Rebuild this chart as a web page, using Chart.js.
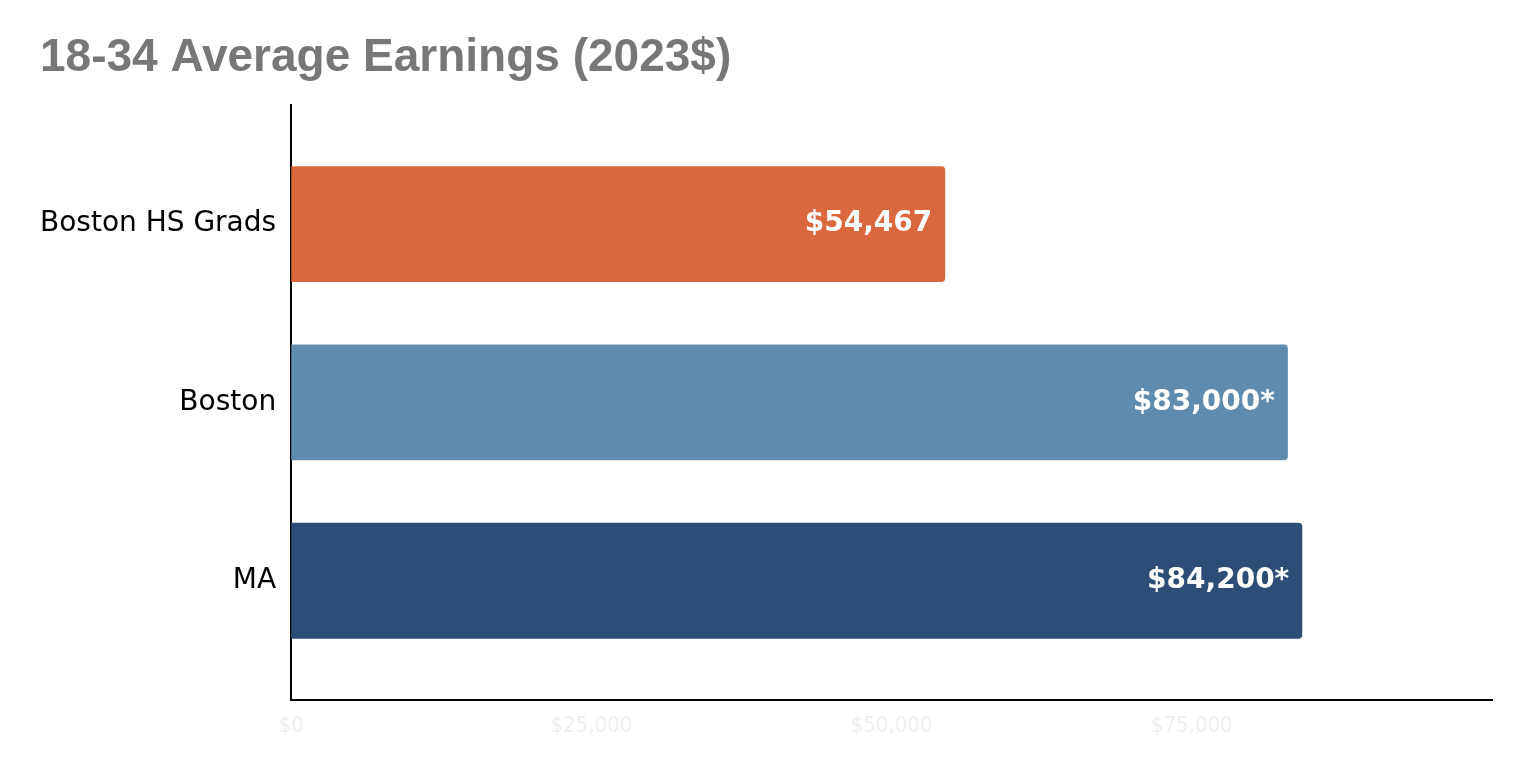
<!DOCTYPE html>
<html>
<head>
<meta charset="utf-8">
<title>18-34 Average Earnings</title>
<script src="https://cdn.jsdelivr.net/npm/chart.js@4.4.1/dist/chart.umd.min.js"></script>
<style>
    html, body { margin: 0; padding: 0; background: #fff; }
    #wrap { width: 1532px; height: 774px; }
</style>
</head>
<body>
<div id="wrap"><canvas id="earnings-chart"></canvas></div>
<script>
// chart data
const categories = ['Boston HS Grads', 'Boston', 'MA'];
const earnings = [54467, 83000, 84200];
const labelNotes = ['', '*', '*'];
const barColors = ['#DB673E', '#5F8BAF', '#2C4E76'];
const xTicks = [0, 25000, 50000, 75000];

const money = v => '$' + v.toLocaleString('en-US');

// white value labels inside the bar ends
const barValueLabels = {
    id: 'barValueLabels',
    afterDatasetsDraw(chart) {
        const ctx = chart.ctx;
        const meta = chart.getDatasetMeta(0);
        ctx.save();
        ctx.font = 'bold 28px "DejaVu Sans"';
        ctx.fillStyle = '#ffffff';
        ctx.textAlign = 'right';
        ctx.textBaseline = 'middle';
        meta.data.forEach((bar, i) => {
            ctx.fillText(money(earnings[i]) + labelNotes[i], bar.x - 13, bar.y);
        });
        ctx.restore();
    }
};

const ctx = document.getElementById('earnings-chart').getContext('2d');
new Chart(ctx, {
    type: 'bar',
    data: {
        datasets: [{
            data: earnings.map((v, i) => ({ x: v, y: i })),
            backgroundColor: barColors,
            borderRadius: 4,
            borderSkipped: 'start',
            barPercentage: 0.65,
            categoryPercentage: 1
        }]
    },
    options: {
        indexAxis: 'y',
        responsive: true,
        maintainAspectRatio: false,
        animation: false,
        layout: { padding: { top: 31, left: 40, right: 40, bottom: 22 } },
        plugins: {
            legend: { display: false },
            tooltip: { enabled: false },
            title: {
                display: true,
                text: '18-34 Average Earnings (2023$)',
                align: 'start',
                color: '#777777',
                font: { family: '"Liberation Sans", Arial, sans-serif', size: 46, weight: 'bold' },
                padding: { top: 0, bottom: 19 }
            }
        },
        scales: {
            x: {
                type: 'linear',
                min: 0,
                max: 100000,
                afterBuildTicks: axis => { axis.ticks = xTicks.map(v => ({ value: v })); },
                grid: { display: false, drawTicks: false },
                border: { display: true, color: '#000000', width: 2 },
                ticks: {
                    color: '#eeeeee',
                    padding: 13,
                    font: { family: '"DejaVu Sans Condensed", "DejaVu Sans", sans-serif', size: 22 },
                    callback: v => money(v)
                }
            },
            y: {
                type: 'linear',
                offset: false,
                reverse: true,
                min: -2 / 3,
                max: categories.length - 1 + 2 / 3,
                afterBuildTicks: axis => { axis.ticks = categories.map((c, i) => ({ value: i })); },
                afterFit: axis => { axis.width -= 15; },
                grid: { display: false, drawTicks: false, offset: false },
                border: { display: true, color: '#000000', width: 2 },
                ticks: {
                    color: '#000000',
                    padding: 15,
                    font: { family: '"DejaVu Sans", sans-serif', size: 28 },
                    callback: v => categories[v]
                }
            }
        }
    },
    plugins: [barValueLabels]
});
</script>
</body>
</html>
